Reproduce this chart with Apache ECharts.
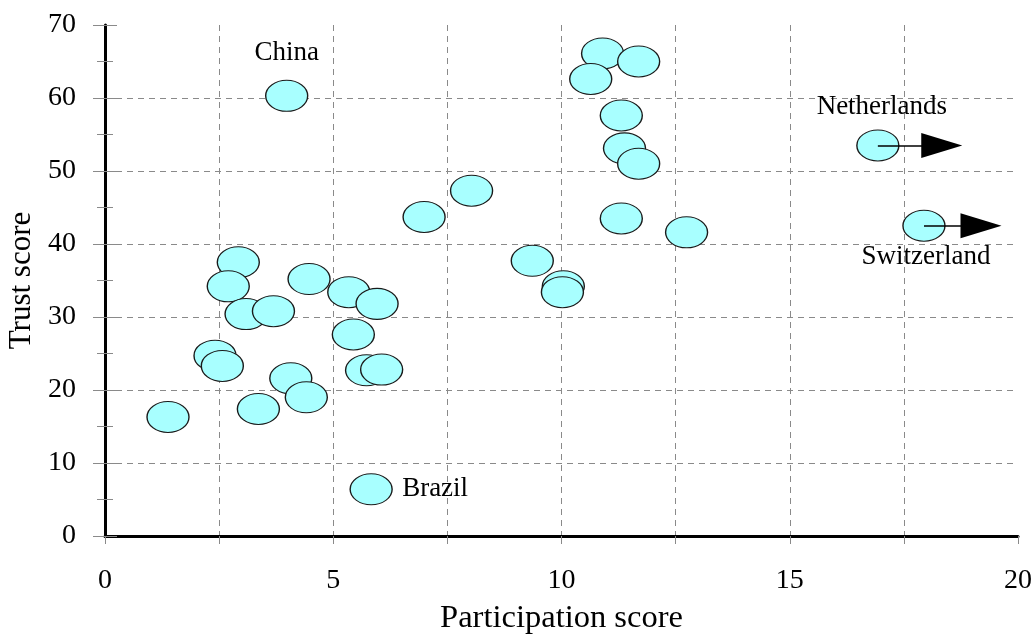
<!DOCTYPE html>
<html>
<head>
<meta charset="utf-8" />
<script src="https://cdn.jsdelivr.net/npm/echarts@6/dist/echarts.min.js"></script>
<title>Trust vs participation</title>
<style>
  html, body { margin: 0; padding: 0; background: #fff; }
</style>
</head>
<body>
<div id="main" style="width:1031px;height:635px;"></div>
<script type="text/javascript">
// participation score (x) / trust score (y) for each country bubble
var participation = [10.90, 11.69, 10.64, 3.98, 11.31, 11.38, 11.69, 16.93, 8.03, 6.99, 11.31, 12.74, 17.94,
                     9.36, 10.04, 10.02, 2.92, 2.70, 4.47, 5.34, 5.96, 3.09, 3.69, 5.44,
                     2.41, 2.57, 4.07, 5.73, 6.06, 4.41, 3.36, 1.38, 5.83];
var trust = [66.1, 65.0, 62.6, 60.3, 57.6, 53.1, 51.0, 53.5, 47.3, 43.7, 43.5, 41.6, 42.5,
             37.7, 34.2, 33.4, 37.5, 34.2, 35.2, 33.4, 31.8, 30.4, 30.8, 27.6,
             24.7, 23.3, 21.6, 22.7, 22.8, 19.0, 17.4, 16.3, 6.4];
var country = ['', '', '', 'China', '', '', '', 'Netherlands', '', '', '', '', 'Switzerland',
               '', '', '', '', '', '', '', '', '', '', '',
               '', '', '', '', '', '', '', '', 'Brazil'];

// arrows: from country bubble to projected participation score
var arrowFrom = ['Netherlands', 'Switzerland'];
var arrowTo = [18.33, 19.19];

var xTicks = [0, 5, 10, 15, 20];
var yTicks = [0, 10, 20, 30, 40, 50, 60, 70];

var font = '"Liberation Serif", "DejaVu Serif", serif';

// where each country name sits next to its bubble
var labelPlace = {
  'China':       { offset: [0, -43], align: 'center' },
  'Netherlands': { offset: [4, -39], align: 'center' },
  'Switzerland': { offset: [2, 31], align: 'center' },
  'Brazil':      { offset: [31, 0], align: 'left' }
};

var points = [];
for (var i = 0; i < participation.length; i++) {
  var item = { value: [participation[i], trust[i]], name: country[i] };
  if (country[i]) {
    var p = labelPlace[country[i]];
    item.label = {
      show: true, position: 'inside', formatter: '{b}',
      offset: p.offset, align: p.align, verticalAlign: 'middle',
      fontSize: 27, fontFamily: font, color: '#000'
    };
  }
  points.push(item);
}

var lines = [], heads = [];
for (var j = 0; j < arrowFrom.length; j++) {
  var k = country.indexOf(arrowFrom[j]);
  lines.push([{ coord: [participation[k], trust[k]] }, { coord: [arrowTo[j], trust[k]] }]);
  heads.push([arrowTo[j], trust[k]]);
}

var dash = { type: [6, 5], color: '#8a8a8a', width: 1 };

var myChart = echarts.init(document.getElementById('main'));
var option = {
  backgroundColor: '#fff',
  animation: false,
  grid: { left: 105, right: 13, top: 25, bottom: 99, containLabel: false, outerBoundsMode: 'none' },
  xAxis: {
    type: 'value', min: xTicks[0], max: xTicks[xTicks.length - 1], interval: 5,
    name: 'Participation score', nameLocation: 'middle', nameGap: 66,
    nameTextStyle: { fontFamily: font, fontSize: 32.5, color: '#000' },
    axisLine: { show: true, onZero: false, lineStyle: { color: '#000', width: 3 } },
    axisTick: { show: true, length: 8, lineStyle: { color: '#8a8a8a' } },
    minorTick: { show: true, splitNumber: 2, length: 8, lineStyle: { color: '#8a8a8a' } },
    axisLabel: { margin: 31, fontFamily: font, fontSize: 28, color: '#000' },
    splitLine: { show: true, showMinLine: false, showMaxLine: false, lineStyle: dash },
    minorSplitLine: { show: true, lineStyle: dash }
  },
  yAxis: [{
    type: 'value', min: yTicks[0], max: yTicks[yTicks.length - 1], interval: 10,
    name: 'Trust score', nameLocation: 'middle', nameGap: 68,
    nameTextStyle: { fontFamily: font, fontSize: 31, color: '#000' },
    axisLine: { show: true, onZero: false, lineStyle: { color: '#000', width: 3 } },
    axisTick: { show: true, length: 12, lineStyle: { color: '#8a8a8a' } },
    minorTick: { show: true, splitNumber: 2, length: 8, lineStyle: { color: '#8a8a8a' } },
    axisLabel: { margin: 29, fontFamily: font, fontSize: 28, color: '#000' },
    splitLine: { show: true, showMinLine: false, showMaxLine: false, lineStyle: dash }
  }, {
    // same scale again, only to draw the tick halves inside the plot
    type: 'value', min: yTicks[0], max: yTicks[yTicks.length - 1], interval: 10,
    position: 'left', offset: 0,
    axisLine: { show: false },
    axisTick: { show: true, inside: true, length: 12, lineStyle: { color: '#8a8a8a' } },
    minorTick: { show: true, splitNumber: 2, length: 8, lineStyle: { color: '#8a8a8a' } },
    axisLabel: { show: false },
    splitLine: { show: false }
  }],
  series: [
    {
      type: 'scatter',
      yAxisIndex: 0,
      symbol: 'path://M0,50A50,50,0,1,1,100,50A50,50,0,1,1,0,50Z',
      symbolSize: [42, 31],
      itemStyle: { color: '#a8ffff', borderColor: '#1a1a1a', borderWidth: 1.2, opacity: 1 },
      emphasis: { disabled: true },
      data: points
    },
    {
      type: 'scatter',
      yAxisIndex: 0,
      symbol: 'triangle',
      symbolRotate: -90,
      symbolSize: [25, 41],
      itemStyle: { color: '#000', opacity: 1 },
      z: 4,
      emphasis: { disabled: true },
      data: heads,
      markLine: {
        silent: true,
        symbol: ['none', 'none'],
        label: { show: false },
        lineStyle: { color: '#000', width: 1.5, type: 'solid', opacity: 1 },
        data: lines
      }
    }
  ]
};
myChart.setOption(option);
</script>
</body>
</html>
